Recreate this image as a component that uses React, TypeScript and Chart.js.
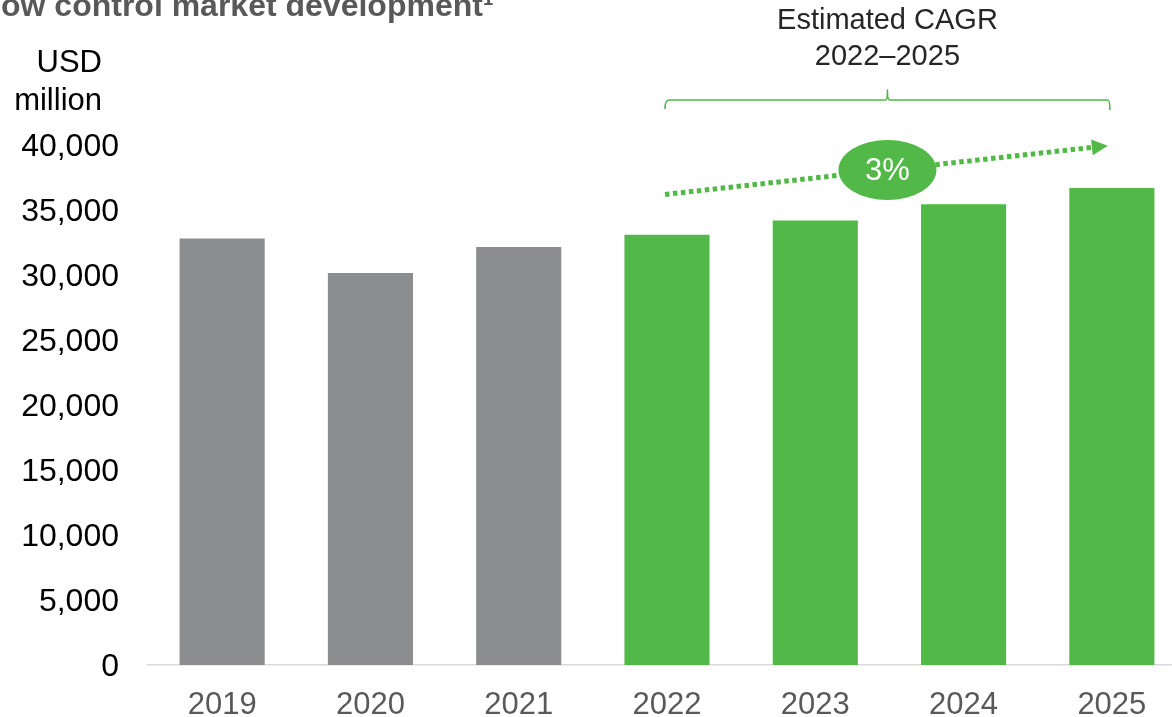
import React, { useEffect, useRef } from "react";
import { Chart, registerables } from "chart.js";

Chart.register(...registerables);

// ---- data ----
const years = ["2019", "2020", "2021", "2022", "2023", "2024", "2025"];
const marketValues = [32800, 30150, 32150, 33100, 34200, 35450, 36700];
const barColors = ["#8C8D8F", "#8C8D8F", "#8C8D8F", "#52B848", "#52B848", "#52B848", "#52B848"];
const yTickValues = [0, 5000, 10000, 15000, 20000, 25000, 30000, 35000, 40000];
const titleText = "ow control market development¹";
const unitLines = ["USD", "million"];
const cagrLabelLines = ["Estimated CAGR", "2022–2025"];
const cagrValueText = "3%";
const cagrStartIndex = 3;
const cagrEndIndex = 6;
const arrowStartValue = 36200;
const arrowEndValue = 39950;

const FONT = "'Liberation Sans', Arial, Helvetica, sans-serif";
const GREEN = "#52B848";

const annotationPlugin = {
  id: "annotations",
  afterDraw(chart: any) {
    const { ctx } = chart;
    const x = chart.scales.x;
    const y = chart.scales.y;
    ctx.save();

    // title (cut off at the top-left)
    ctx.fillStyle = "#595959";
    ctx.font = `bold 32px ${FONT}`;
    ctx.textAlign = "left";
    ctx.textBaseline = "alphabetic";
    ctx.fillText(titleText, 1, 16);

    // unit label
    ctx.fillStyle = "#000000";
    ctx.font = `31px ${FONT}`;
    ctx.textAlign = "right";
    ctx.fillText(unitLines[0], 102, 72);
    ctx.fillText(unitLines[1], 102, 110);

    const xs = x.getPixelForValue(cagrStartIndex);
    const xe = x.getPixelForValue(cagrEndIndex);
    const xm = (xs + xe) / 2;

    // CAGR label
    ctx.fillStyle = "#262626";
    ctx.font = `29px ${FONT}`;
    ctx.textAlign = "center";
    ctx.textBaseline = "middle";
    ctx.fillText(cagrLabelLines[0], xm - 2, 21);
    ctx.fillText(cagrLabelLines[1], xm - 2, 57);

    // bracket
    const by = 100;
    ctx.strokeStyle = GREEN;
    ctx.lineWidth = 1.6;
    ctx.lineJoin = "round";
    ctx.beginPath();
    ctx.moveTo(xs - 2, by + 9);
    ctx.quadraticCurveTo(xs - 2, by, xs + 2, by);
    ctx.lineTo(xm - 4, by);
    ctx.quadraticCurveTo(xm - 2, by, xm - 2, by - 10);
    ctx.quadraticCurveTo(xm - 2, by, xm, by);
    ctx.lineTo(xe - 4, by);
    ctx.quadraticCurveTo(xe - 2, by, xe - 2, by + 10);
    ctx.stroke();

    // dotted arrow
    const ys = y.getPixelForValue(arrowStartValue);
    const tipX = xe - 4;
    const tipY = y.getPixelForValue(arrowEndValue);
    const ang = Math.atan2(tipY - ys, tipX - xs);
    const headLen = 16;
    const headHalf = 8;
    const baseX = tipX - headLen * Math.cos(ang);
    const baseY = tipY - headLen * Math.sin(ang);
    ctx.strokeStyle = GREEN;
    ctx.lineWidth = 5;
    ctx.setLineDash([4.5, 3.5]);
    ctx.lineCap = "butt";
    ctx.beginPath();
    ctx.moveTo(xs - 2, ys);
    ctx.lineTo(baseX, baseY);
    ctx.stroke();
    ctx.setLineDash([]);
    ctx.fillStyle = GREEN;
    ctx.beginPath();
    ctx.moveTo(tipX, tipY);
    ctx.lineTo(baseX - headHalf * Math.sin(ang), baseY + headHalf * Math.cos(ang));
    ctx.lineTo(baseX + headHalf * Math.sin(ang), baseY - headHalf * Math.cos(ang));
    ctx.closePath();
    ctx.fill();

    // ellipse with value
    const ex = xm - 2;
    const t = (ex - xs) / (tipX - xs);
    const ey = ys + (tipY - ys) * t;
    ctx.beginPath();
    ctx.ellipse(ex, ey, 49, 30, 0, 0, Math.PI * 2);
    ctx.fill();
    ctx.fillStyle = "#FFFFFF";
    ctx.font = `31px ${FONT}`;
    ctx.textAlign = "center";
    ctx.textBaseline = "middle";
    ctx.fillText(cagrValueText, ex, ey + 1);

    ctx.restore();
  },
};

export default function App() {
  const canvasRef = useRef<HTMLCanvasElement | null>(null);

  useEffect(() => {
    if (!canvasRef.current) return;
    const chart = new Chart(canvasRef.current, {
      type: "bar",
      data: {
        labels: years,
        datasets: [
          {
            data: marketValues,
            backgroundColor: barColors,
            borderWidth: 0,
            categoryPercentage: 1,
            barPercentage: 0.574,
          },
        ],
      },
      options: {
        animation: false,
        responsive: false,
        maintainAspectRatio: false,
        devicePixelRatio: 1,
        layout: { padding: { top: 145, right: 14, bottom: 0, left: 0 } },
        plugins: {
          legend: { display: false },
          tooltip: { enabled: false },
          title: { display: false },
        },
        scales: {
          x: {
            grid: { display: false, drawTicks: false },
            border: { display: true, color: "#D9D9D9", width: 1.5 },
            ticks: {
              color: "#595959",
              font: { family: FONT, size: 31 },
              padding: 22,
              maxRotation: 0,
              autoSkip: false,
            },
            afterFit: (s: any) => {
              s.height = 52;
            },
          },
          y: {
            min: 0,
            max: 40000,
            grid: { display: false, drawTicks: false },
            border: { display: false },
            afterBuildTicks: (s: any) => {
              s.ticks = yTickValues.map((v) => ({ value: v }));
            },
            ticks: {
              color: "#000000",
              font: { family: FONT, size: 32 },
              padding: 29,
              labelOffset: 2,
              callback: (v: any) => Number(v).toLocaleString("en-US"),
            },
            afterFit: (s: any) => {
              s.width = 148;
            },
          },
        },
      },
      plugins: [annotationPlugin],
    });
    return () => chart.destroy();
  }, []);

  return (
    <div
      style={{
        position: "fixed",
        left: 0,
        top: 0,
        width: 1172,
        height: 717,
        overflow: "hidden",
        background: "#FFFFFF",
      }}
    >
      <canvas ref={canvasRef} width={1200} height={717} style={{ width: 1200, height: 717, display: "block" }} />
    </div>
  );
}
